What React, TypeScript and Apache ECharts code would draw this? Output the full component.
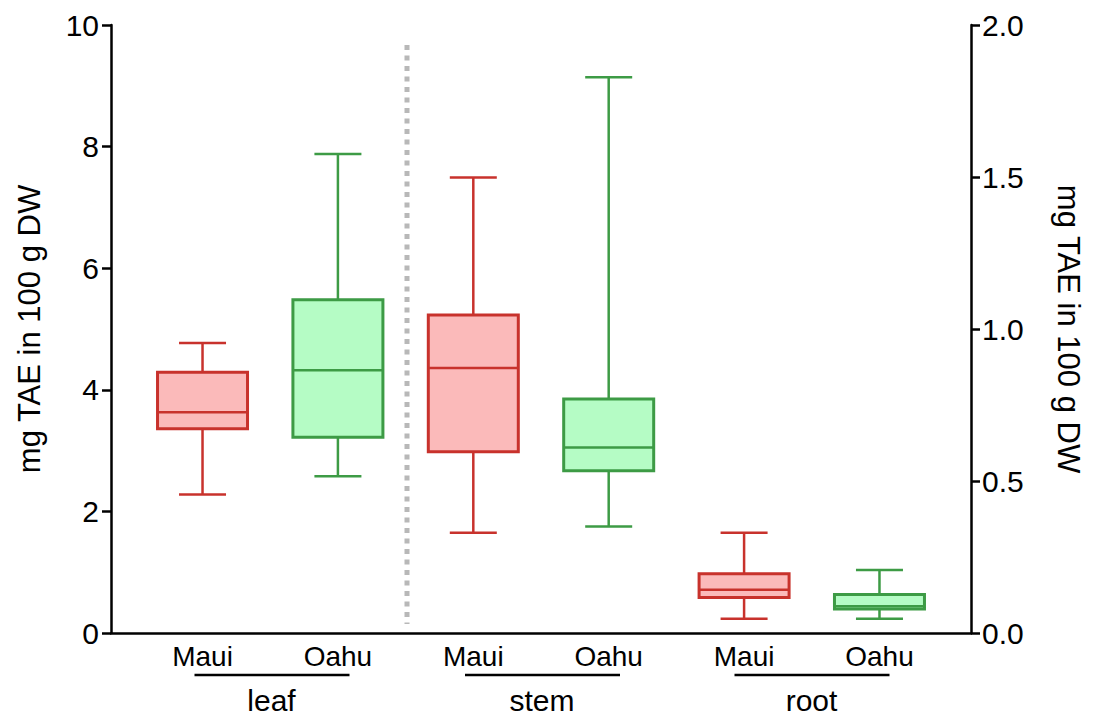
import React, { useEffect, useRef } from "react";
import * as echarts from "echarts";

// ---- data (box stats: [min, Q1, median, Q3, max]) ----
const tissues = ["leaf", "stem", "root"];
const origins = ["Maui", "Oahu"];
const leftTickMax = 10;
const rightTickMax = 2;
// left axis (mg TAE in 100 g DW): leaf, stem
const mauiLeafStem = [
  [2.28, 3.36, 3.63, 4.29, 4.77],
  [1.65, 2.98, 4.36, 5.23, 7.49],
];
const oahuLeafStem = [
  [2.58, 3.22, 4.32, 5.48, 7.88],
  [1.75, 2.67, 3.05, 3.85, 9.14],
];
// right axis: root
const mauiRoot = [0.047, 0.117, 0.142, 0.195, 0.33];
const oahuRoot = [0.047, 0.079, 0.088, 0.127, 0.207];

const RED = { stroke: "#c8322c", fill: "#fbbaba" };
const GREEN = { stroke: "#3d9b45", fill: "#b5fcc5" };
const FONT = "'Liberation Sans', Arial, Helvetica, sans-serif";

function boxRender(colors: { stroke: string; fill: string }) {
  return (params: any, api: any) => {
    const x = api.value(0);
    const mn = api.coord([x, api.value(1)]);
    const q1 = api.coord([x, api.value(2)]);
    const md = api.coord([x, api.value(3)]);
    const q3 = api.coord([x, api.value(4)]);
    const mx = api.coord([x, api.value(5)]);
    const cx = mn[0];
    const bw = 45;
    const cw = 23.5;
    const ls = { stroke: colors.stroke, lineWidth: 2.5 };
    return {
      type: "group",
      children: [
        { type: "line", shape: { x1: cx, y1: mx[1], x2: cx, y2: q3[1] }, style: ls },
        { type: "line", shape: { x1: cx, y1: q1[1], x2: cx, y2: mn[1] }, style: ls },
        { type: "line", shape: { x1: cx - cw, y1: mx[1], x2: cx + cw, y2: mx[1] }, style: ls },
        { type: "line", shape: { x1: cx - cw, y1: mn[1], x2: cx + cw, y2: mn[1] }, style: ls },
        {
          type: "rect",
          shape: { x: cx - bw, y: q3[1], width: bw * 2, height: q1[1] - q3[1] },
          style: { fill: colors.fill, stroke: colors.stroke, lineWidth: 3 },
        },
        { type: "line", shape: { x1: cx - bw, y1: md[1], x2: cx + bw, y2: md[1] }, style: { stroke: colors.stroke, lineWidth: 2.5 } },
      ],
    };
  };
}

export default function App() {
  const ref = useRef<HTMLDivElement>(null);
  useEffect(() => {
    if (!ref.current) return;
    const chart = echarts.init(ref.current, null, { renderer: "svg" });
    const mauiLeft = mauiLeafStem.map((s, i) => [i * 2, ...s]);
    const oahuLeft = oahuLeafStem.map((s, i) => [i * 2 + 1, ...s]);
    const mauiRight = [[4, ...mauiRoot]];
    const oahuRight = [[5, ...oahuRoot]];

    const groupCenters = [271.5, 542, 811.5];
    const graphic: any[] = [
      {
        type: "line",
        shape: { x1: 407, y1: 45, x2: 407, y2: 624 },
        style: { stroke: "#b8b8b8", lineWidth: 5, lineDash: [5, 5.5] },
        z: 1,
      },
    ];
    tissues.forEach((t, i) => {
      const c = groupCenters[i];
      graphic.push({
        type: "line",
        shape: { x1: c - 77, x2: c + 78, y1: 675, y2: 675 },
        style: { stroke: "#000", lineWidth: 2.5 },
      });
      graphic.push({
        type: "text",
        x: c,
        y: 700,
        style: { text: t, font: `30px ${FONT}`, fill: "#000", align: "center", verticalAlign: "middle" },
      });
    });

    const yAxisBase = {
      type: "value",
      min: 0,
      splitLine: { show: false },
      axisLine: { show: true, onZero: false, lineStyle: { color: "#000", width: 2.5 } },
      axisTick: { show: true, length: 9, lineStyle: { color: "#000", width: 2.5 } },
    };

    chart.setOption({
      animation: false,
      grid: { left: 111, right: 123, top: 25, bottom: 84, containLabel: false },
      xAxis: {
        type: "value",
        min: -0.676,
        max: 5.676,
        splitLine: { show: false },
        axisTick: { show: false },
        axisLine: { show: true, onZero: false, lineStyle: { color: "#000", width: 2.5 } },
        axisLabel: {
          customValues: [0, 1, 2, 3, 4, 5],
          formatter: (v: number) => origins[Math.round(v) % 2],
          color: "#000",
          fontSize: 28,
          fontFamily: FONT,
          margin: 9,
        },
      },
      yAxis: [
        {
          ...yAxisBase,
          max: leftTickMax,
          interval: 2,
          position: "left",
          name: "mg TAE in 100 g DW",
          nameLocation: "middle",
          nameGap: 66,
          nameTextStyle: { color: "#000", fontSize: 31, fontFamily: FONT },
          axisLabel: { color: "#000", fontSize: 30, fontFamily: FONT, margin: 12 },
        },
        {
          ...yAxisBase,
          max: rightTickMax,
          interval: 0.5,
          position: "right",
          name: "mg TAE in 100 g DW",
          nameLocation: "middle",
          nameRotate: -90,
          nameGap: 82,
          nameTextStyle: { color: "#000", fontSize: 31, fontFamily: FONT },
          axisLabel: {
            color: "#000",
            fontSize: 30,
            fontFamily: FONT,
            margin: 11,
            formatter: (v: number) => v.toFixed(1),
          },
        },
      ],
      graphic,
      series: [
        { name: "Maui", type: "custom", yAxisIndex: 0, data: mauiLeft, renderItem: boxRender(RED), clip: false },
        { name: "Oahu", type: "custom", yAxisIndex: 0, data: oahuLeft, renderItem: boxRender(GREEN), clip: false },
        { name: "Maui root", type: "custom", yAxisIndex: 1, data: mauiRight, renderItem: boxRender(RED), clip: false },
        { name: "Oahu root", type: "custom", yAxisIndex: 1, data: oahuRight, renderItem: boxRender(GREEN), clip: false },
      ],
    });
    return () => chart.dispose();
  }, []);
  return (
    <div
      ref={ref}
      style={{ position: "fixed", left: 0, top: 0, width: 1094, height: 717, background: "#fff" }}
    />
  );
}
